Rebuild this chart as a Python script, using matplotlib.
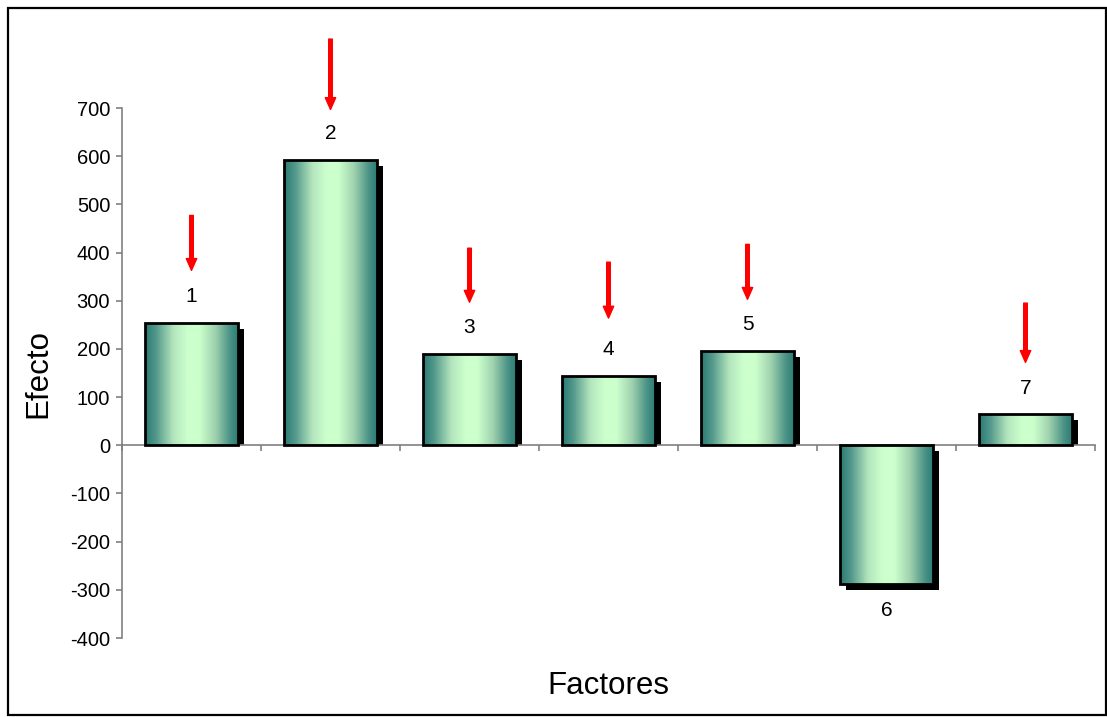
import numpy as np
import matplotlib
matplotlib.use("Agg")
import matplotlib.pyplot as plt
from matplotlib.colors import LinearSegmentedColormap
from matplotlib.patches import Rectangle

plt.rcParams['font.family'] = ['Liberation Sans', 'DejaVu Sans']

# Effect of each factor
factors = ['1', '2', '3', '4', '5', '6', '7']
effects = [253, 592, 189, 143, 195, -288, 64]

# Red arrows pointing at the factor labels (tail and tip in effect units)
arrow_factors = ['1', '2', '3', '4', '5', '7']
arrow_tail = [477, 843, 409, 380, 417, 295]
arrow_tip = [363, 697, 297, 264, 303, 172]

y_ticks = [-400, -300, -200, -100, 0, 100, 200, 300, 400, 500, 600, 700]

W, H, DPI = 1107, 717, 100
fig = plt.figure(figsize=(W / DPI, H / DPI), dpi=DPI)
ax = fig.add_axes([122 / W, 1 - 638 / H, (1095 - 122) / W, (638 - 108) / H])

ymin, ymax = -400, 700
ax.set_xlim(-0.5, len(factors) - 0.5)
ax.set_ylim(ymin, ymax)

# pixel -> data conversions for the drop shadow
px_y = (ymax - ymin) / (638 - 108)
px_x = len(factors) / (1095 - 122)
sh_dx, sh_dy = 6 * px_x, 6 * px_y

cmap = LinearSegmentedColormap.from_list(
    'bar_grad',
    [(0.00, (0.16, 0.48, 0.45)),
     (0.12, (0.33, 0.60, 0.55)),
     (0.30, (0.70, 0.90, 0.74)),
     (0.45, (0.80, 1.00, 0.80)),
     (0.58, (0.80, 1.00, 0.80)),
     (0.75, (0.62, 0.82, 0.68)),
     (0.90, (0.30, 0.58, 0.53)),
     (1.00, (0.16, 0.48, 0.45))])
grad = np.linspace(0, 1, 256).reshape(1, -1)

bar_w = 0.67
x = np.arange(len(factors))
for xi, v in zip(x, effects):
    # drop shadow, shifted right and down, kept off the zero line
    if v >= 0:
        sb, st = 0, v - sh_dy
    else:
        sb, st = v - sh_dy, -sh_dy
    ax.add_patch(Rectangle((xi - bar_w / 2 + sh_dx, sb), bar_w, st - sb,
                           facecolor='black', edgecolor='none', zorder=1))

bars = ax.bar(x, effects, width=bar_w, facecolor='none', edgecolor='black',
              linewidth=2, zorder=3)
for b in bars:
    x0, y0 = b.get_x(), b.get_y()
    x1, y1 = x0 + b.get_width(), y0 + b.get_height()
    im = ax.imshow(grad, extent=[x0, x1, min(y0, y1), max(y0, y1)],
                   aspect='auto', cmap=cmap, zorder=2, interpolation='bicubic')
    im.set_clip_path(b)

ax.set_xlim(-0.5, len(factors) - 0.5)
ax.set_ylim(ymin, ymax)

# value labels
for xi, v, name in zip(x, effects, factors):
    off = 19 if v >= 0 else -19
    ax.annotate(name, (xi, v), xytext=(0, off), textcoords='offset points',
                ha='center', va='center', fontsize=15, zorder=4)

# arrows
for name, t0, t1 in zip(arrow_factors, arrow_tail, arrow_tip):
    xi = factors.index(name)
    ax.annotate('', xy=(xi, t1), xytext=(xi, t0), annotation_clip=False,
                arrowprops=dict(facecolor='#ff0000', edgecolor='#ff0000',
                                width=2.6, headwidth=7.5, headlength=8.5,
                                shrink=0))

# axes styling
for s in ['top', 'right']:
    ax.spines[s].set_visible(False)
ax.spines['left'].set_color('#808080')
ax.spines['left'].set_linewidth(1.2)
ax.spines['bottom'].set_position(('data', 0))
ax.spines['bottom'].set_color('#808080')
ax.spines['bottom'].set_linewidth(1.2)
ax.set_yticks(y_ticks)
ax.set_yticklabels([str(t) for t in y_ticks])
ax.set_xticks(np.arange(len(factors) + 1) - 0.5)
ax.set_xticklabels([])
ax.tick_params(axis='y', direction='out', length=4.5, width=1.2,
               color='#808080', labelsize=14.5, pad=4)
ax.tick_params(axis='x', direction='out', length=4, width=1.2,
               color='#808080')

fig.text(38 / W, 1 - 374 / H, 'Efecto', rotation=90, ha='center',
         va='center', fontsize=22.5)
fig.text(608 / W, 1 - 686 / H, 'Factores', ha='center', va='center',
         fontsize=22.5)

# outer frame
fig.add_artist(Rectangle((8 / W, 2 / H), (1106 - 8) / W, (715 - 8) / H,
                         transform=fig.transFigure, fill=False,
                         edgecolor='black', linewidth=1.6))

fig.savefig('out.png', dpi=DPI)
